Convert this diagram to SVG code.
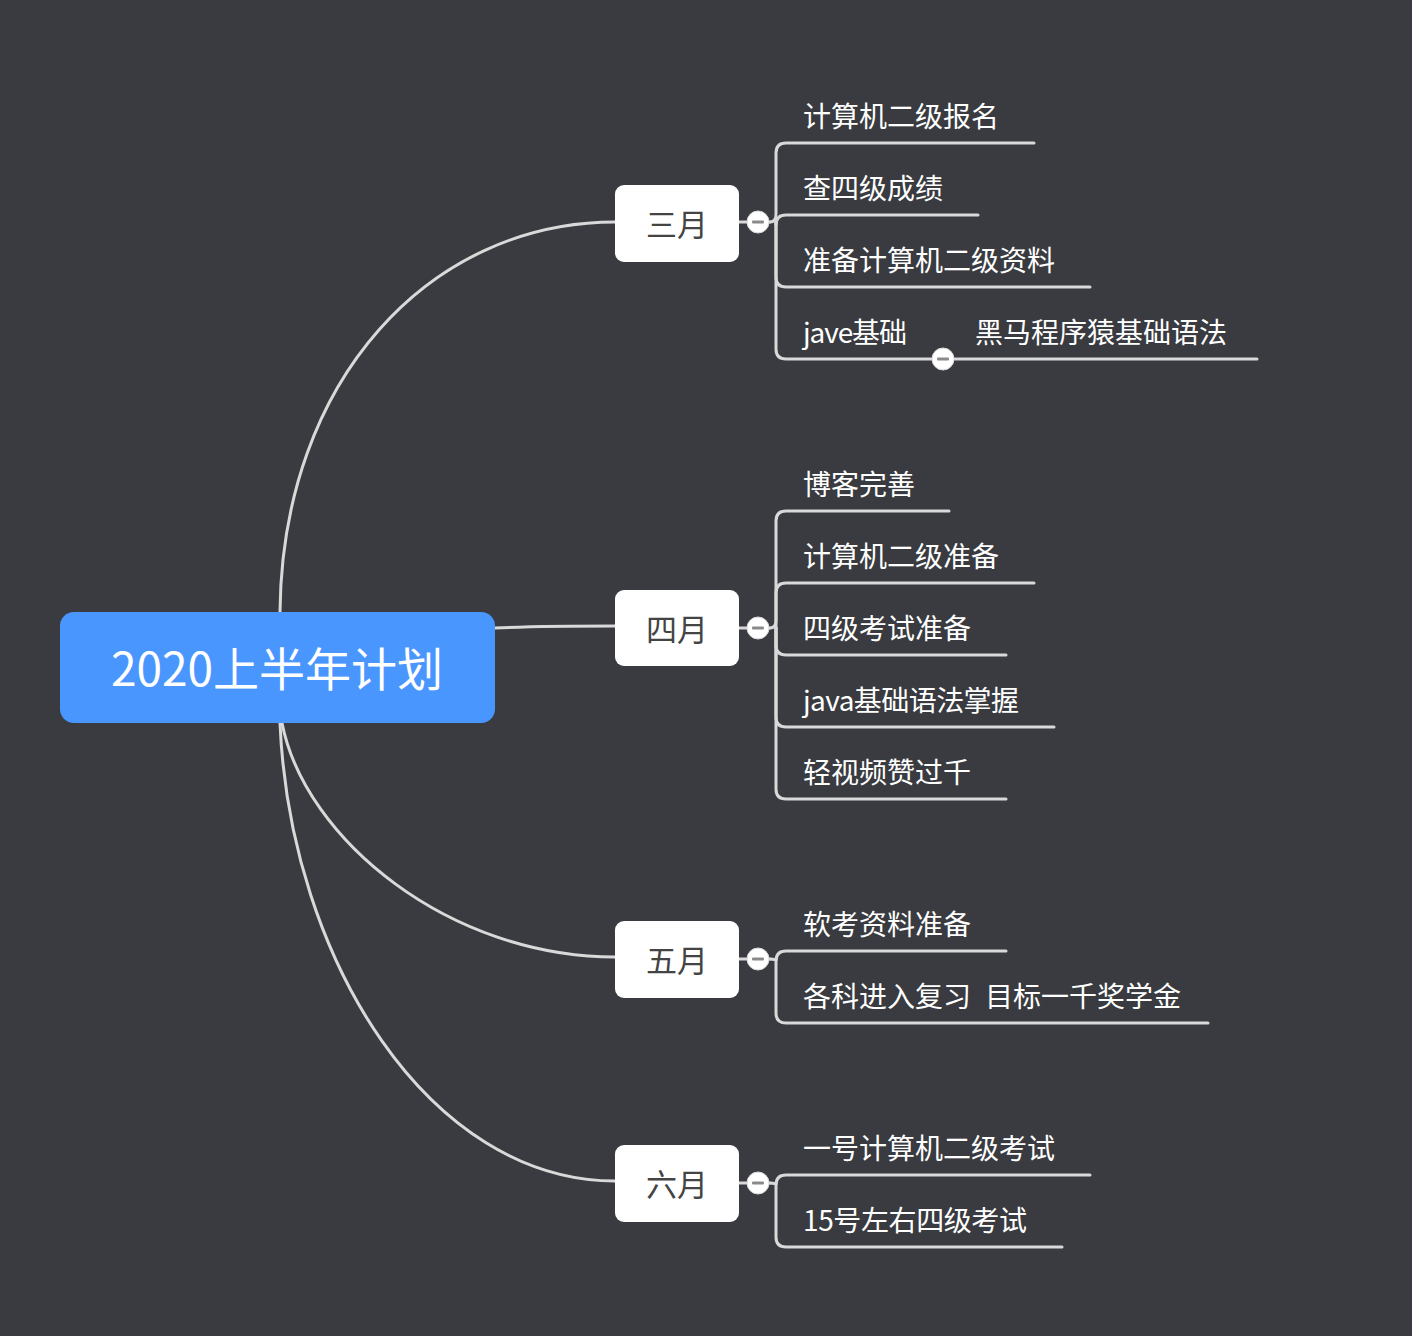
<svg xmlns="http://www.w3.org/2000/svg" width="1412" height="1336" viewBox="0 0 1412 1336">
<defs>
<style>
.bg{fill:#393b40}
.ln{fill:none;stroke:#d9d9d9;stroke-width:3;stroke-linecap:round}
.month rect{fill:#ffffff}
.month text{font-family:"Noto Sans CJK SC","Noto Sans",sans-serif;font-size:31px;fill:#444444;text-anchor:middle;dominant-baseline:central}
.leaf text{font-family:"Noto Sans CJK SC","Noto Sans",sans-serif;font-size:28px;fill:#ffffff}
.btn circle{fill:#ffffff;stroke:#d9d9d9;stroke-width:1}
.btn rect{fill:#8a8a8a}
</style>
</defs>
<rect class="bg" x="0" y="0" width="1412" height="1336"/>
<g id="connectors">
<path class="ln" d="M280,612 C282,380 430,222 615,222"/>
<path class="ln" d="M495,628 C540,626 570,626 615,626"/>
<path class="ln" d="M282,723 C305,840 450,957 615,957"/>
<path class="ln" d="M280,723 C290,960 430,1181 615,1181"/>
<path class="ln" d="M739,222 H770"/>
<path class="ln" d="M739,628 H770"/>
<path class="ln" d="M739,959 H770"/>
<path class="ln" d="M739,1183 H770"/>
<path class="ln" d="M770,222 Q776,222 776,214 V153 Q776,143 786,143 H1034"/>
<path class="ln" d="M776,222 V225 Q776,215 786,215 H978"/>
<path class="ln" d="M776,222 V277 Q776,287 786,287 H1090"/>
<path class="ln" d="M776,222 V349 Q776,359 786,359 H1257"/>
<path class="ln" d="M770,628 Q776,628 776,620 V521 Q776,511 786,511 H949"/>
<path class="ln" d="M776,628 V593 Q776,583 786,583 H1034"/>
<path class="ln" d="M776,628 V645 Q776,655 786,655 H1006"/>
<path class="ln" d="M776,628 V717 Q776,727 786,727 H1054"/>
<path class="ln" d="M776,628 V789 Q776,799 786,799 H1006"/>
<path class="ln" d="M770,959 Q776,959 776,961 V961 Q776,951 786,951 H1006"/>
<path class="ln" d="M776,959 V1013 Q776,1023 786,1023 H1208"/>
<path class="ln" d="M770,1183 Q776,1183 776,1185 V1185 Q776,1175 786,1175 H1090"/>
<path class="ln" d="M776,1183 V1237 Q776,1247 786,1247 H1062"/>
</g>
<g id="root">
<rect x="60" y="612" width="435" height="111" rx="14" fill="#4a96ff"/>
<text x="277" y="666" font-family="Noto Sans CJK SC, Noto Sans, sans-serif" font-size="46" fill="#ffffff" text-anchor="middle" dominant-baseline="central">2020上半年计划</text>
</g>
<g id="m3" class="month"><rect x="615" y="185" width="124" height="77" rx="9"/><text x="677" y="222">三月</text></g>
<g id="m4" class="month"><rect x="615" y="590" width="124" height="76" rx="9"/><text x="677" y="627">四月</text></g>
<g id="m5" class="month"><rect x="615" y="921" width="124" height="77" rx="9"/><text x="677" y="958">五月</text></g>
<g id="m6" class="month"><rect x="615" y="1145" width="124" height="77" rx="9"/><text x="677" y="1182">六月</text></g>
<g id="b3" class="btn"><circle cx="758" cy="222" r="11"/><rect x="752" y="220.5" width="12" height="3" rx="1"/></g>
<g id="b4" class="btn"><circle cx="758" cy="628" r="11"/><rect x="752" y="626.5" width="12" height="3" rx="1"/></g>
<g id="b5" class="btn"><circle cx="758" cy="959" r="11"/><rect x="752" y="957.5" width="12" height="3" rx="1"/></g>
<g id="b6" class="btn"><circle cx="758" cy="1183" r="11"/><rect x="752" y="1181.5" width="12" height="3" rx="1"/></g>
<g id="bj" class="btn"><circle cx="943" cy="359" r="11"/><rect x="937" y="357.5" width="12" height="3" rx="1"/></g>
<g id="l31" class="leaf"><text x="803" y="127">计算机二级报名</text></g>
<g id="l32" class="leaf"><text x="803" y="199">查四级成绩</text></g>
<g id="l33" class="leaf"><text x="803" y="271">准备计算机二级资料</text></g>
<g id="l34" class="leaf"><text x="803" y="343" textLength="104">jave基础</text></g>
<g id="l341" class="leaf"><text x="975" y="343">黑马程序猿基础语法</text></g>
<g id="l41" class="leaf"><text x="803" y="495">博客完善</text></g>
<g id="l42" class="leaf"><text x="803" y="567">计算机二级准备</text></g>
<g id="l43" class="leaf"><text x="803" y="639">四级考试准备</text></g>
<g id="l44" class="leaf"><text x="803" y="711" textLength="216">java基础语法掌握</text></g>
<g id="l45" class="leaf"><text x="803" y="783">轻视频赞过千</text></g>
<g id="l51" class="leaf"><text x="803" y="935">软考资料准备</text></g>
<g id="l52" class="leaf"><text x="803" y="1007">各科进入复习<tspan x="985">目标一千奖学金</tspan></text></g>
<g id="l61" class="leaf"><text x="803" y="1159">一号计算机二级考试</text></g>
<g id="l62" class="leaf"><text x="803" y="1231" textLength="224">15号左右四级考试</text></g>
</svg>
